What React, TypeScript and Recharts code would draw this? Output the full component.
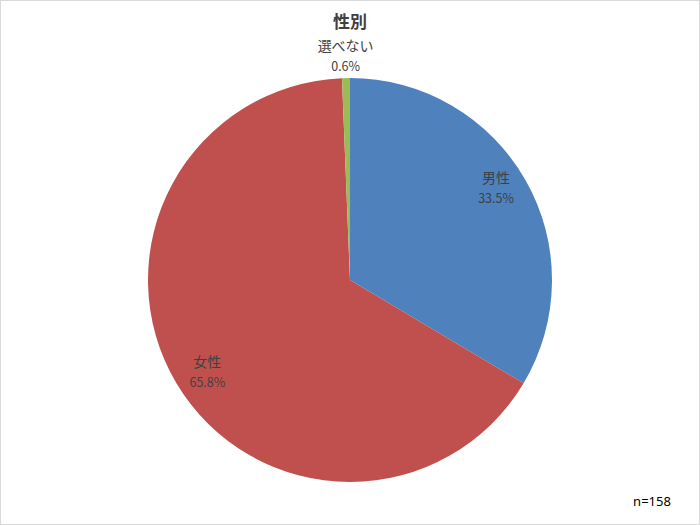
import React from "react";
import { PieChart, Pie, Cell } from "recharts";

const categories = ["男性", "女性", "選べない"];
const counts = [53, 104, 1];
const colors = ["#4F81BD", "#C0504D", "#9BBB59"];
const labelRadii = [168, 166, 220];
const labelShift = [-5, 11, 0];
const titleText = "性別";
const noteText = "n=158";

const data = categories.map((name, i) => ({ name, value: counts[i] }));
const RAD = Math.PI / 180;

const renderLabel = (props: any) => {
  const { cx, cy, midAngle, percent, name, index } = props;
  const r = labelRadii[index];
  const x = cx + r * Math.cos(-midAngle * RAD);
  const y = cy + r * Math.sin(-midAngle * RAD) + labelShift[index];
  return (
    <text
      x={x}
      y={y}
      textAnchor="middle"
      fill="#404040"
      style={{ fontFamily: "'Noto Sans CJK JP', 'Noto Sans', sans-serif" }}
    >
      <tspan x={x} y={y - 9} fontSize={14}>{name}</tspan>
      <tspan x={x} y={y + 11} fontSize={12.5}>{(percent * 100).toFixed(1)}%</tspan>
    </text>
  );
};

export default function App() {
  return (
    <div style={{ position: "fixed", left: 0, top: 0, width: 700, height: 525, background: "#fff" }}>
      <style>{`body{margin:0}`}</style>
      <div
        style={{
          position: "absolute",
          left: 0,
          top: 0,
          width: 698,
          height: 523,
          border: "1px solid #D9D9D9",
        }}
      />
      <PieChart
        width={700}
        height={525}
        margin={{ top: 0, right: 0, bottom: 0, left: 0 }}
        style={{ position: "absolute", left: 0, top: 0 }}
      >
        <text
          x={350}
          y={28}
          textAnchor="middle"
          fontSize={17}
          fontWeight="bold"
          fill="#404040"
          style={{ fontFamily: "'Noto Sans CJK JP', sans-serif" }}
        >
          {titleText}
        </text>
        <Pie
          data={data}
          dataKey="value"
          nameKey="name"
          cx={350}
          cy={280}
          outerRadius={202}
          startAngle={90}
          endAngle={-270}
          stroke="none"
          label={renderLabel}
          labelLine={false}
          isAnimationActive={false}
        >
          {data.map((d, i) => (
            <Cell key={d.name} fill={colors[i]} />
          ))}
        </Pie>
        <text
          x={652}
          y={506}
          textAnchor="middle"
          fontSize={13}
          fill="#000"
          style={{ fontFamily: "'Noto Sans', sans-serif" }}
        >
          {noteText}
        </text>
      </PieChart>
    </div>
  );
}
